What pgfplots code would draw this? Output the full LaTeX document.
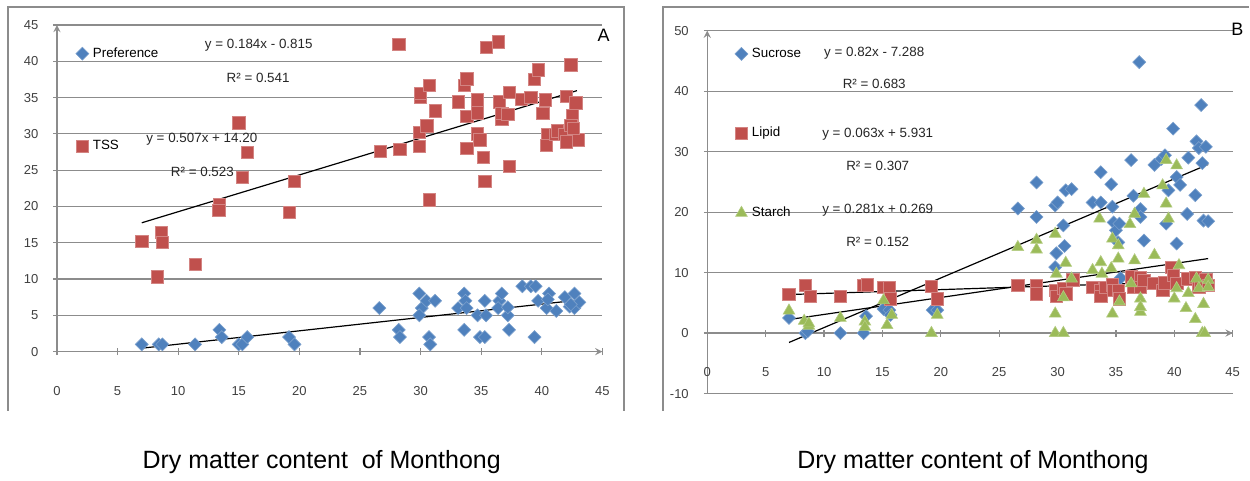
\documentclass[border=0pt]{standalone}
\usepackage{fontspec}
\setmainfont{Liberation Sans}
\usepackage{pgfplots}
\pgfplotsset{compat=1.18}

\definecolor{xblue}{HTML}{4F81BD}
\definecolor{xred}{HTML}{C0504D}
\definecolor{xgreen}{HTML}{9BBB59}
\definecolor{xgrid}{HTML}{8C8C8C}

\pgfplotsset{
  excel/.style={
    scale only axis,
    clip=false,
    xmin=0, xmax=45,
    xtick={0,5,...,45},
    tick align=outside,
    major tick length=3.5pt,
    tick style={xgrid, line width=0.6pt},
    axis line style={xgrid, line width=0.6pt, -},
    ymajorgrids,
    grid style={xgrid, line width=0.6pt},
    tick label style={font=\fontsize{6.5}{8}\selectfont, text=black!75},
    yticklabel style={xshift=-4pt},
    /pgf/number format/assume math mode=true,
    legend cell align=left,
    legend image code/.code={\draw[mark repeat=2,mark phase=2,##1] plot coordinates {(0cm,0cm) (0.15cm,0cm) (0.3cm,0cm)};},
  },
  pdiamond/.style={only marks, mark=square*, mark size=2.3pt,
    mark options={rotate=45, fill=xblue, draw=xblue!75!white, line width=0.3pt}},
  psquare/.style={only marks, mark=square*, mark size=3.1pt,
    mark options={fill=xred, draw=xred!70!white, line width=0.3pt}},
  ptriangle/.style={only marks, mark=triangle*, mark size=3.4pt,
    mark options={fill=xgreen, draw=xgreen!75!white, line width=0.3pt}},
  trend/.style={black, line width=0.6pt, forget plot},
}

\begin{document}
\begin{tikzpicture}
% page size and frames
\path (0,0) rectangle (625pt,238.5pt);
\draw[xgrid, line width=1pt] (4pt,33pt) -- (4pt,235pt) -- (312.5pt,235pt) -- (312.5pt,33pt);
\draw[xgrid, line width=1pt] (332pt,33pt) -- (332pt,235pt) -- (625pt,235pt);

% A
\begin{axis}[excel,
    at={(28.5pt,62.5pt)}, anchor=south west,
    width=273pt, height=163.5pt,
    ymin=0, ymax=45,
    ytick={0,5,...,45},
    axis lines=left,
    xticklabel style={yshift=-12pt},
    legend style={at={(0.034,0.945)}, anchor=north west, draw=none, fill=none,
      inner sep=0pt, row sep=36pt, font=\fontsize{6.7}{8}\selectfont},
]
\addplot[pdiamond] coordinates {
(7,1) (8.4,1) (8.7,1) (11.4,1) (13.4,3) (13.6,2) (15.0,1) (15.3,1) (15.7,2) (19.15,2) (19.6,1)
(26.6,6) (28.2,3) (28.3,2) (29.9,8) (30.1,6) (29.9,5) (30.5,7) (30.7,2) (30.8,1) (31.2,7)
(33.1,6) (33.6,8) (33.7,7) (33.6,3) (33.8,6) (34.7,5) (34.9,2) (35.3,7) (35.3,2) (35.4,5)
(36.5,7) (36.7,8) (36.4,6) (37.2,5) (37.3,3) (37.2,6.1) (38.4,9) (39.1,9) (39.5,9) (39.4,2)
(39.7,7) (40.4,6) (40.6,8) (40.5,7.2) (41.2,5.6) (41.9,7.5) (42.3,6.2) (42.7,8) (42.7,6) (43.1,6.8) (42.4,6.5)
};
\addplot[psquare] coordinates {
(7,15.2) (8.3,10.3) (8.6,16.4) (8.7,15.1) (11.4,12) (13.4,20.3) (13.35,19.5) (15.0,31.5) (15.7,27.5) (15.3,24) (19.15,19.2) (19.6,23.5)
(26.7,27.6) (28.2,42.3) (28.3,27.9) (29.9,28.3) (29.9,30.2) (30.0,35.0) (30.0,35.6) (30.7,36.7) (30.5,31.1) (31.2,33.2) (30.7,20.9)
(33.1,34.4) (33.6,36.7) (33.8,37.6) (33.8,28.0) (33.8,32.4) (34.7,34.7) (34.7,32.9) (34.7,30.0) (34.9,29.2) (35.2,26.8) (35.3,23.5) (35.4,41.9)
(36.4,42.7) (36.5,34.4) (37.3,35.7) (36.7,32.0) (36.7,32.8) (37.2,32.7) (37.3,25.5) (38.3,34.8) (39.1,35.0) (39.4,37.5) (39.7,38.8)
(40.1,32.8) (40.3,34.7) (40.5,29.9) (40.4,28.4) (41.1,29.9) (41.3,30.4) (41.9,29.9) (42.0,35.2) (42.4,39.5) (42.8,34.3) (42.5,32.5) (42.4,31.2) (42.0,28.9) (43.0,29.2) (42.6,30.8)
};
\addplot[trend] coordinates {(7,0.473) (42.9,7.08)};
\addplot[trend] coordinates {(7,17.75) (42.9,35.95)};
\legend{Preference,TSS}
\begin{scope}[every node/.style={font=\fontsize{6.7}{8}\selectfont, text=black!85}]
\node at (axis cs:16.65,42.2) {y = 0.184x - 0.815};
\node at (axis cs:16.6,37.7) {R² = 0.541};
\node at (axis cs:11.95,29.3) {y = 0.507x + 14.20};
\node at (axis cs:12.0,24.8) {R² = 0.523};
\end{scope}
\node[font=\fontsize{9}{10}\selectfont] at (axis cs:45.1,43.6) {A};
\end{axis}

% B
\begin{axis}[excel,
    at={(354pt,41.5pt)}, anchor=south west,
    width=263pt, height=181.65pt,
    ymin=-10, ymax=50,
    ytick={-10,0,...,50},
    axis x line=middle, axis y line=left,
    hide obscured x ticks=false,
    xticklabel style={yshift=-12pt},
    legend style={at={(0.052,0.965)}, anchor=north west, draw=none, fill=none,
      inner sep=0pt, row sep=29.5pt, font=\fontsize{6.7}{8}\selectfont},
]
\addplot[pdiamond] coordinates {
(7.0,2.5) (8.4,0) (8.6,0.3) (11.4,0) (13.6,2.8) (13.4,0) (15.1,4) (15.6,3.8) (15.7,3) (19.3,3.8) (19.7,3.8)
(26.6,20.6) (28.2,24.9) (28.2,19.2) (29.8,21.1) (30.0,21.6) (30.5,17.8) (30.6,14.4) (29.9,13.2) (29.8,10.9) (30.7,23.6) (31.2,23.8)
(33.0,21.6) (33.7,21.6) (33.7,26.6) (34.6,24.6) (34.7,20.9) (34.8,18.3) (35.0,17.0) (35.3,18.1) (35.2,15.0) (35.4,9.1)
(36.3,28.6) (36.5,22.7) (37.0,44.8) (37.1,20.5) (37.1,19.2) (37.4,15.3) (38.3,27.8) (38.9,28.8) (39.2,29.4) (39.3,18.1) (39.5,23.6) (39.9,33.8)
(40.2,25.8) (40.5,24.5) (40.2,14.8) (41.1,19.7) (41.2,29.0) (41.8,22.8) (41.9,31.7) (42.1,30.6) (42.7,30.8) (42.3,37.7) (42.4,28.1) (42.5,18.6) (42.9,18.5)
};
\addplot[psquare] coordinates {
(7.0,6.4) (8.4,7.9) (8.8,6.1) (11.4,6.1) (13.4,7.9) (13.7,8.0) (15.1,7.6) (15.6,7.6) (15.7,5.7) (19.2,7.7) (19.7,5.7)
(26.6,7.9) (28.2,7.9) (28.2,6.5) (29.8,7.1) (29.9,6.1) (30.5,7.4) (30.7,6.5) (31.3,8.8)
(33.0,7.6) (33.7,7.1) (33.7,6.1) (34.1,7.6) (34.7,8.0) (34.8,7.1) (35.2,7.1) (35.3,5.7)
(36.3,9.3) (36.5,7.6) (37.1,9.2) (37.1,7.6) (37.4,8.7) (38.2,8.2) (39.0,7.1) (39.2,8.3) (39.8,10.9) (39.9,9.6) (40.2,8.2)
(41.1,9.0) (41.8,9.2) (42.1,7.6) (42.2,8.2) (42.7,8.8) (42.9,7.9)
};
\addplot[ptriangle] coordinates {
(7.0,3.7) (8.3,2.0) (8.7,1.2) (8.7,1.6) (11.4,2.5) (13.5,1.9) (13.5,1.0) (15.1,5.4) (15.4,1.3) (15.8,3.0) (19.2,0) (19.7,3.0)
(26.6,14.2) (28.2,15.4) (28.2,13.8) (29.8,16.4) (29.9,9.8) (29.8,3.2) (29.8,0) (30.5,0) (30.5,5.9) (30.7,11.6) (31.2,9.0)
(33.0,10.4) (33.6,18.9) (33.7,11.7) (33.8,9.8) (34.7,15.6) (34.7,3.2) (34.6,10.7) (35.2,14.5) (35.2,12.3) (35.3,5.2)
(36.2,18.0) (36.3,8.2) (36.6,19.7) (36.6,12.0) (37.1,5.7) (37.1,3.5) (37.1,4.3) (37.4,23.0) (38.3,12.9)
(39.0,24.4) (39.3,28.6) (39.3,21.4) (39.5,18.9) (40.2,27.7) (40.0,5.7) (40.2,7.4) (40.4,11.2) (41.2,6.6) (41.0,4.1) (41.8,2.3) (41.9,9.0) (42.1,7.4) (42.4,0) (42.6,0) (42.5,4.8) (42.9,8.8) (42.9,7.6)
};
\addplot[trend] coordinates {(7,-1.55) (42.9,27.89)};
\addplot[trend] coordinates {(7,6.37) (42.9,8.63)};
\addplot[trend] coordinates {(7,2.24) (42.9,12.32)};
\legend{Sucrose,Lipid,Starch}
\begin{scope}[every node/.style={font=\fontsize{6.7}{8}\selectfont, text=black!85}]
\node at (axis cs:14.3,46.3) {y = 0.82x - 7.288};
\node at (axis cs:14.3,41.2) {R² = 0.683};
\node at (axis cs:14.6,32.8) {y = 0.063x + 5.931};
\node at (axis cs:14.6,27.7) {R² = 0.307};
\node at (axis cs:14.6,20.3) {y = 0.281x + 0.269};
\node at (axis cs:14.6,15.0) {R² = 0.152};
\end{scope}
\node[font=\fontsize{9}{10}\selectfont] at (axis cs:45.4,50.2) {B};
\end{axis}

\node[font=\fontsize{12.5}{14}\selectfont] at (161pt,7pt) {Dry matter content \ of Monthong};
\node[font=\fontsize{12.5}{14}\selectfont] at (487pt,7pt) {Dry matter content of Monthong};
\end{tikzpicture}
\end{document}
